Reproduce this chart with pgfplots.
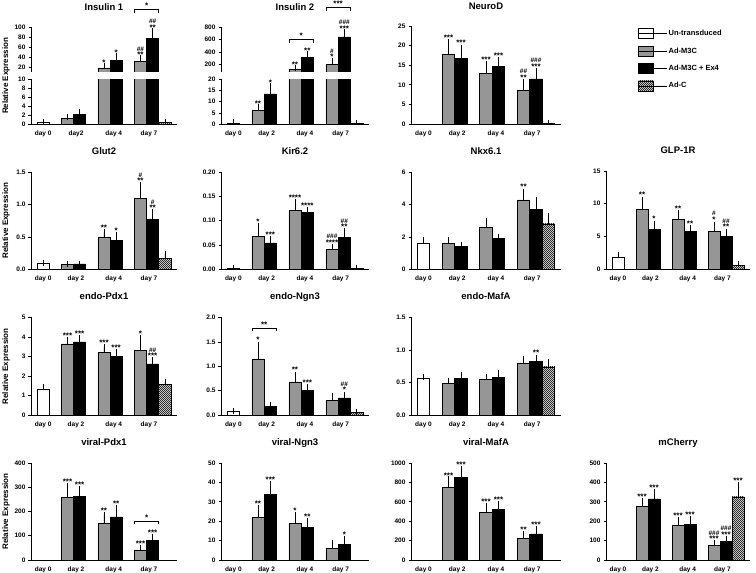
\documentclass[border=0pt]{standalone}
\usepackage{fontspec}
\setmainfont{Liberation Sans}
\usepackage{pgfplots}
\pgfplotsset{compat=1.18}
\usetikzlibrary{patterns}
\pgfdeclarepatternformonly{fineNE}{\pgfqpoint{-1pt}{-1pt}}{\pgfqpoint{3pt}{3pt}}{\pgfqpoint{2pt}{2pt}}{\pgfsetlinewidth{0.45pt}\pgfpathmoveto{\pgfqpoint{-0.1pt}{-0.1pt}}\pgfpathlineto{\pgfqpoint{2.1pt}{2.1pt}}\pgfusepath{stroke}}
\definecolor{gbar}{RGB}{150,150,150}
\tikzset{sigst/.style={font=\bfseries\fontsize{8}{6.5}\selectfont, anchor=south, inner sep=0.3pt, align=center}}
\pgfplotsset{
  bb/.style={ybar, bar width=1, bar shift=0pt, draw=black, line width=0.6pt,
    error bars/y dir=plus, error bars/y explicit,
    error bars/error bar style={line width=0.6pt, black},
    error bars/error mark options={line width=0.6pt, black, mark size=3pt}},
  wb/.style={bb, fill=white},
  gb/.style={bb, fill=gbar},
  kb/.style={bb, fill=black},
  hb/.style={bb, pattern=fineNE, pattern color=black},
  panel/.style={scale only axis, anchor=south west, axis x line=bottom, axis y line=left,
    axis line style={line width=0.7pt, -}, xmin=0, xmax=12, ymin=0, enlargelimits=false,
    tick align=outside, major tick length=2.5pt, ytick style={line width=0.6pt, black},
    xtick={1,3.7,6.8,9.7}, xticklabels={day 0,day 2,day 4,day 7}, xtick style={draw=none},
    tick label style={font=\bfseries\fontsize{6.5}{7}\selectfont},
    xticklabel style={yshift=-0.5pt},
    yticklabel style={xshift=0.5pt},
    /pgf/number format/assume math mode=true, /pgf/number format/1000 sep={},
    title style={font=\bfseries\fontsize{9.5}{10}\selectfont, at={(0.5,1)}, anchor=base},
    clip mode=individual},
  t1/.style={title style={yshift=10pt}},
  t2/.style={title style={yshift=11.5pt}},
  ylab/.style={ylabel={Relative Expression},
    every axis y label/.style={at={(axis description cs:-0.17,#1)}, rotate=90, anchor=center},
    ylabel style={font=\bfseries\fontsize{8}{9}\selectfont}},
  ylab/.default=0.5,
}
\newcommand{\hs}[1]{{\fontsize{6.5}{6.5}\selectfont#1}}
\newcommand{\sig}[3]{\node[sigst] at (axis cs:#1,#2) {#3};}
\newcommand{\brk}[4]{\draw[line width=0.6pt] (axis cs:#1,#4) -- (axis cs:#1,#3) -- (axis cs:#2,#3) -- (axis cs:#2,#4);}
\begin{document}
\begin{tikzpicture}
\useasboundingbox (0,0) rectangle (756pt,573pt);

% ---------------- Insulin 1 ----------------
\begin{axis}[panel, ylab=1.08, at={(31pt,449pt)}, width=146pt, height=44.5pt, ymax=10,
  ytick={0,2,4,6,8,10}, xticklabels={day 0,day2,day 4,day 7}]
\addplot[wb] coordinates {(1,0.3) +- (0,0.1)};
\addplot[gb] coordinates {(3,1.2) +- (0,0.4) (6,18) +- (0,4) (9,31) +- (0,6)};
\addplot[kb] coordinates {(4,2.1) +- (0,0.6) (7,33) +- (0,8) (10,77) +- (0,15)};
\addplot[hb] coordinates {(11,0.3) +- (0,0.1)};
\end{axis}
\begin{axis}[panel, t1, at={(31pt,501pt)}, width=146pt, height=45pt, ymin=10, ymax=100,
  ytick={20,40,60,80,100}, axis x line=none, xtick=\empty, title={Insulin 1}]
\addplot[gb] coordinates {(6,18) +- (0,4) (9,31) +- (0,6)};
\addplot[kb] coordinates {(7,33) +- (0,8) (10,77) +- (0,15)};
\sig{6}{22.5}{*}
\sig{7}{41.5}{*}
\sig{9}{37.5}{\hs{\#\#}\\**}
\sig{10}{92.5}{\hs{\#\#}\\**}
\brk{8.5}{10.5}{135}{128}
\sig{9.5}{136}{*}
\end{axis}

% ---------------- Insulin 2 ----------------
\begin{axis}[panel, at={(221pt,449pt)}, width=148pt, height=44.5pt, ymax=20,
  ytick={0,5,10,15,20}]
\addplot[wb] coordinates {(1,0.5) +- (0,0.2)};
\addplot[gb] coordinates {(3,6) +- (0,1.5) (6,120) +- (0,25) (9,200) +- (0,60)};
\addplot[kb] coordinates {(4,13.5) +- (0,3.5) (7,310) +- (0,60) (10,640) +- (0,80)};
\addplot[hb] coordinates {(11,0.2) +- (0,0.05)};
\sig{3}{7.8}{**}
\sig{4}{17.3}{*}
\end{axis}
\begin{axis}[panel, t1, at={(221pt,501pt)}, width=148pt, height=45pt, ymin=80, ymax=800,
  ytick={200,400,600,800}, axis x line=none, xtick=\empty, title={Insulin 2}]
\addplot[gb] coordinates {(6,120) +- (0,25) (9,200) +- (0,60)};
\addplot[kb] coordinates {(7,310) +- (0,60) (10,640) +- (0,80)};
\sig{6}{150}{**}
\sig{7}{375}{**}
\sig{9}{265}{\hs{\#}\\*}
\sig{10}{725}{\hs{\#\#\#}\\***}
\brk{5.5}{7.5}{602}{549}
\sig{6.5}{605}{*}
\brk{8.5}{10.5}{1112}{1058}
\sig{9.5}{1115}{***}
\end{axis}

% ---------------- NeuroD ----------------
\begin{axis}[panel, t1, at={(411pt,449pt)}, width=150pt, height=98pt, ymax=25,
  ytick={0,5,10,15,20,25}, title={NeuroD}]
\addplot[gb] coordinates {(3,17.8) +- (0,3) (6,13) +- (0,2.2) (9,8.5) +- (0,2.2)};
\addplot[kb] coordinates {(4,16.7) +- (0,2.8) (7,14.6) +- (0,1.6) (10,11.5) +- (0,2.1)};
\addplot[hb] coordinates {(11,0.15) +- (0,0.05)};
\sig{3}{21.1}{***}
\sig{4}{19.8}{***}
\sig{6}{15.5}{***}
\sig{7}{16.5}{***}
\sig{9}{11}{\hs{\#\#}\\**}
\sig{10}{13.9}{\hs{\#\#\#}\\***}
\end{axis}

% ---------------- Legend ----------------
\begin{axis}[hide axis, scale only axis, at={(638pt,545pt)}, anchor=north west,
  width=10pt, height=10pt, xmin=0, xmax=1, ymin=0, ymax=1,
  legend style={at={(0,1)}, anchor=north west, draw=none, fill=none,
    font=\bfseries\fontsize{7.5}{8}\selectfont, row sep=6.5pt, inner sep=0pt,
    cells={anchor=west}},
  legend image code/.code={\draw[#1, line width=0.6pt] (0pt,-5pt) rectangle (15pt,5pt); \path (0pt,0pt) -- (28pt,0pt);}]
\addlegendimage{fill=white, draw=black}
\addlegendentry{Un-transduced}
\addlegendimage{fill=gbar, draw=black}
\addlegendentry{Ad-M3C}
\addlegendimage{fill=black, draw=black}
\addlegendentry{Ad-M3C + Ex4}
\addlegendimage{pattern=fineNE, draw=black}
\addlegendentry{Ad-C}
\end{axis}

% ---------------- Glut2 ----------------
\begin{axis}[panel, t2, ylab, at={(31pt,304pt)}, width=146pt, height=96.5pt, ymax=1.5,
  ytick={0,0.5,1,1.5}, yticklabels={0.0,0.5,1.0,1.5}, title={Glut2}]
\addplot[wb] coordinates {(1,0.09) +- (0,0.01)};
\addplot[gb] coordinates {(3,0.07) +- (0,0.01) (6,0.5) +- (0,0.07) (9,1.1) +- (0,0.2)};
\addplot[kb] coordinates {(4,0.08) +- (0,0.005) (7,0.45) +- (0,0.08) (10,0.77) +- (0,0.11)};
\addplot[hb] coordinates {(11,0.17) +- (0,0.07)};
\sig{6}{0.59}{**}
\sig{7}{0.55}{*}
\sig{9}{1.32}{\hs{\#}\\**}
\sig{10}{0.9}{\hs{\#}\\**}
\end{axis}

% ---------------- Kir6.2 ----------------
\begin{axis}[panel, t2, at={(221pt,304pt)}, width=148pt, height=96.5pt, ymax=0.2,
  ytick={0,0.05,0.1,0.15,0.2}, yticklabels={0.00,0.05,0.10,0.15,0.20}, title={Kir6.2}]
\addplot[wb] coordinates {(1,0.002) +- (0,0.001)};
\addplot[gb] coordinates {(3,0.068) +- (0,0.021) (6,0.122) +- (0,0.016) (9,0.041) +- (0,0.005)};
\addplot[kb] coordinates {(4,0.054) +- (0,0.009) (7,0.118) +- (0,0.004) (10,0.066) +- (0,0.012)};
\addplot[hb] coordinates {(11,0.002) +- (0,0.001)};
\sig{3}{0.091}{*}
\sig{4}{0.065}{***}
\sig{6}{0.140}{****}
\sig{7}{0.124}{****}
\sig{9}{0.048}{\hs{\#\#\#}\\****}
\sig{10}{0.080}{\hs{\#\#}\\**}
\end{axis}

% ---------------- Nkx6.1 ----------------
\begin{axis}[panel, t2, at={(411pt,304pt)}, width=150pt, height=96.5pt, ymax=6,
  ytick={0,2,4,6}, title={Nkx6.1}]
\addplot[wb] coordinates {(1,1.6) +- (0,0.2)};
\addplot[gb] coordinates {(3,1.6) +- (0,0.2) (6,2.6) +- (0,0.4) (9,4.3) +- (0,0.5)};
\addplot[kb] coordinates {(4,1.4) +- (0,0.1) (7,1.9) +- (0,0.1) (10,3.7) +- (0,0.6)};
\addplot[hb] coordinates {(11,2.8) +- (0,0.5)};
\sig{9}{4.9}{**}
\end{axis}

% ---------------- GLP-1R ----------------
\begin{axis}[panel, t2, at={(606pt,304pt)}, width=144pt, height=98pt, ymax=15,
  ytick={0,5,10,15}, title={GLP-1R}]
\addplot[wb] coordinates {(1,1.8) +- (0,0.3)};
\addplot[gb] coordinates {(3,9.1) +- (0,1.5) (6,7.6) +- (0,0.9) (9,5.8) +- (0,1.0)};
\addplot[kb] coordinates {(4,6.0) +- (0,0.9) (7,5.7) +- (0,0.5) (10,5.0) +- (0,0.6)};
\addplot[hb] coordinates {(11,0.6) +- (0,0.1)};
\sig{3}{10.9}{**}
\sig{4}{7.2}{*}
\sig{6}{8.8}{**}
\sig{7}{6.5}{**}
\sig{9}{7.1}{\hs{\#}\\*}
\sig{10}{5.9}{\hs{\#\#}\\**}
\end{axis}

% ---------------- endo-Pdx1 ----------------
\begin{axis}[panel, t2, ylab, at={(31pt,158pt)}, width=146pt, height=97.5pt, ymax=5,
  ytick={0,1,2,3,4,5}, title={endo-Pdx1}]
\addplot[wb] coordinates {(1,1.32) +- (0,0.12)};
\addplot[gb] coordinates {(3,3.65) +- (0,0.22) (6,3.2) +- (0,0.28) (9,3.3) +- (0,0.65)};
\addplot[kb] coordinates {(4,3.75) +- (0,0.2) (7,3.0) +- (0,0.22) (10,2.62) +- (0,0.2)};
\addplot[hb] coordinates {(11,1.55) +- (0,0.15)};
\sig{3}{3.92}{***}
\sig{4}{4.0}{***}
\sig{6}{3.53}{***}
\sig{7}{3.27}{***}
\sig{9}{4.0}{*}
\sig{10}{2.87}{\hs{\#\#}\\***}
\end{axis}

% ---------------- endo-Ngn3 ----------------
\begin{axis}[panel, t2, at={(221pt,158pt)}, width=148pt, height=97.5pt, ymax=2,
  ytick={0,0.5,1,1.5,2}, yticklabels={0.0,0.5,1.0,1.5,2.0}, title={endo-Ngn3}]
\addplot[wb] coordinates {(1,0.07) +- (0,0.01)};
\addplot[gb] coordinates {(3,1.15) +- (0,0.29) (6,0.68) +- (0,0.15) (9,0.3) +- (0,0.09)};
\addplot[kb] coordinates {(4,0.17) +- (0,0.04) (7,0.5) +- (0,0.07) (10,0.35) +- (0,0.07)};
\addplot[hb] coordinates {(11,0.05) +- (0,0.01)};
\sig{3}{1.47}{*}
\sig{6}{0.86}{**}
\sig{7}{0.6}{***}
\sig{10}{0.45}{\hs{\#\#}\\*}
\brk{2.5}{4.5}{1.77}{1.72}
\sig{3.5}{1.79}{**}
\end{axis}

% ---------------- endo-MafA ----------------
\begin{axis}[panel, t2, at={(411pt,158pt)}, width=150pt, height=97.5pt, ymax=1.5,
  ytick={0,0.5,1,1.5}, yticklabels={0.0,0.5,1.0,1.5}, title={endo-MafA}]
\addplot[wb] coordinates {(1,0.57) +- (0,0.02)};
\addplot[gb] coordinates {(3,0.48) +- (0,0.05) (6,0.55) +- (0,0.04) (9,0.8) +- (0,0.06)};
\addplot[kb] coordinates {(4,0.56) +- (0,0.05) (7,0.58) +- (0,0.06) (10,0.83) +- (0,0.04)};
\addplot[hb] coordinates {(11,0.74) +- (0,0.07)};
\sig{10}{0.9}{**}
\end{axis}

% ---------------- viral-Pdx1 ----------------
\begin{axis}[panel, t2, ylab, at={(31pt,13pt)}, width=146pt, height=97pt, ymax=400,
  ytick={0,100,200,300,400}, title={viral-Pdx1}]
\addplot[gb] coordinates {(3,258) +- (0,48) (6,152) +- (0,35) (9,42) +- (0,6)};
\addplot[kb] coordinates {(4,262) +- (0,32) (7,178) +- (0,38) (10,80) +- (0,13)};
\sig{3}{310}{***}
\sig{4}{298}{***}
\sig{6}{191}{**}
\sig{7}{220}{**}
\sig{9}{52}{***}
\sig{10}{97}{***}
\brk{8.5}{10.5}{158}{148}
\sig{9.5}{160}{*}
\end{axis}

% ---------------- viral-Ngn3 ----------------
\begin{axis}[panel, t2, at={(221pt,13pt)}, width=148pt, height=97pt, ymax=50,
  ytick={0,10,20,30,40,50}, title={viral-Ngn3}]
\addplot[gb] coordinates {(3,22) +- (0,5) (6,19) +- (0,4) (9,6) +- (0,3)};
\addplot[kb] coordinates {(4,34) +- (0,5) (7,17) +- (0,3) (10,8) +- (0,3)};
\sig{3}{27.5}{**}
\sig{4}{39.5}{***}
\sig{6}{23.5}{*}
\sig{7}{20.5}{**}
\sig{10}{11.5}{*}
\end{axis}

% ---------------- viral-MafA ----------------
\begin{axis}[panel, t2, at={(411pt,13pt)}, width=150pt, height=97pt, ymax=1000,
  ytick={0,200,400,600,800,1000}, title={viral-MafA}]
\addplot[gb] coordinates {(3,750) +- (0,80) (6,490) +- (0,65) (9,220) +- (0,50)};
\addplot[kb] coordinates {(4,855) +- (0,80) (7,520) +- (0,60) (10,270) +- (0,50)};
\sig{3}{840}{***}
\sig{4}{945}{***}
\sig{6}{565}{***}
\sig{7}{590}{***}
\sig{9}{280}{**}
\sig{10}{330}{***}
\end{axis}

% ---------------- mCherry ----------------
\begin{axis}[panel, t2, at={(606pt,13pt)}, width=144pt, height=97pt, ymax=500,
  ytick={0,100,200,300,400,500}, title={mCherry}]
\addplot[gb] coordinates {(3,275) +- (0,30) (6,180) +- (0,25) (9,75) +- (0,12)};
\addplot[kb] coordinates {(4,315) +- (0,35) (7,185) +- (0,25) (10,95) +- (0,15)};
\addplot[hb] coordinates {(11,325) +- (0,60)};
\sig{3}{310}{***}
\sig{4}{355}{***}
\sig{6}{210}{***}
\sig{7}{215}{***}
\sig{9}{92}{\hs{\#\#\#}\\***}
\sig{10}{115}{\hs{\#\#\#}\\***}
\sig{11}{390}{***}
\end{axis}
\end{tikzpicture}
\end{document}
